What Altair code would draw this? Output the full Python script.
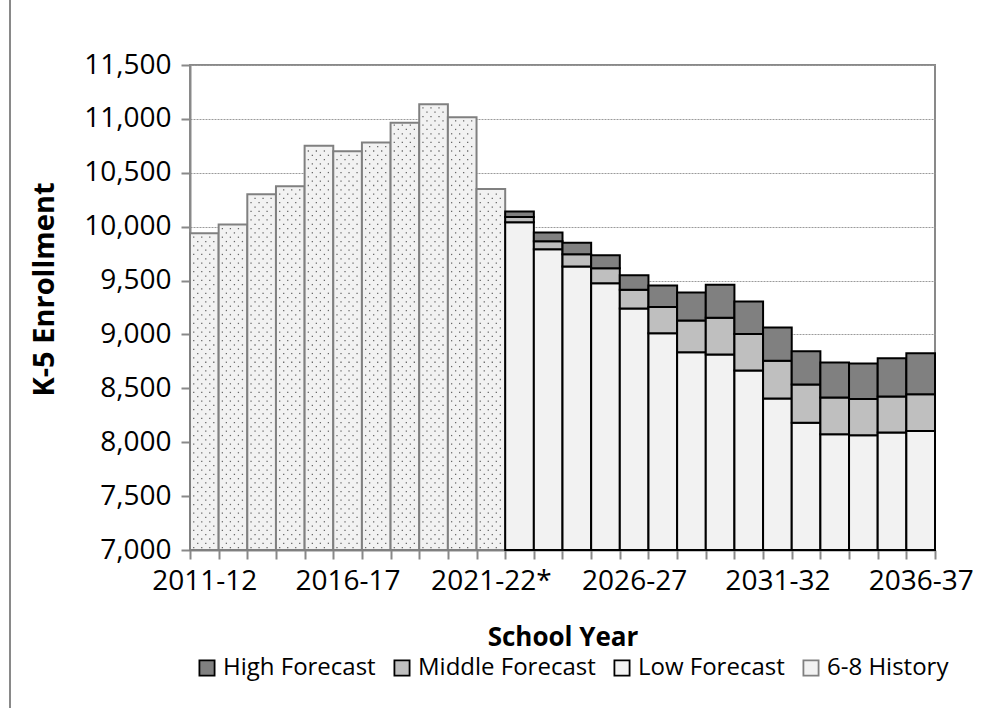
import altair as alt
import pandas as pd

# School years on the x axis; the asterisk marks the last reported year
YEARS = [
    "2011-12", "2012-13", "2013-14", "2014-15", "2015-16", "2016-17",
    "2017-18", "2018-19", "2019-20", "2020-21", "2021-22*", "2022-23",
    "2023-24", "2024-25", "2025-26", "2026-27", "2027-28", "2028-29",
    "2029-30", "2030-31", "2031-32", "2032-33", "2033-34", "2034-35",
    "2035-36", "2036-37",
]

# Reported enrollment, 2011-12 .. 2021-22
HISTORY = [9940, 10020, 10300, 10375, 10750, 10700, 10780, 10965, 11135, 11015, 10350]

# Forecast totals, 2022-23 .. 2036-37
LOW = [10040, 9790, 9630, 9475, 9240, 9010, 8835, 8815, 8665, 8405, 8180, 8075, 8065, 8090, 8105]
MIDDLE = [10090, 9865, 9745, 9615, 9415, 9255, 9130, 9155, 9005, 8755, 8535, 8415, 8400, 8425, 8445]
HIGH = [10140, 9945, 9850, 9735, 9550, 9455, 9390, 9460, 9305, 9065, 8845, 8740, 8730, 8780, 8825]

SERIES = ["High Forecast", "Middle Forecast", "Low Forecast", "6-8 History"]
FILLS = ["#808080", "#bfbfbf", "#f2f2f2", "#f2f2f2"]
STROKES = ["#000000", "#000000", "#000000", "#808080"]

Y_MIN, Y_MAX = 7000, 11500
FONT = "Open Sans"
FRAME_GRAY = "#898989"

# Bar segments: history bars rise from the axis floor, forecasts are stacked low/middle/high
rows = []
n_hist = len(HISTORY)
for year, v in zip(YEARS[:n_hist], HISTORY):
    rows.append({"year": year, "series": "6-8 History", "y0": Y_MIN, "y1": v})
for year, lo, mid, hi in zip(YEARS[n_hist:], LOW, MIDDLE, HIGH):
    rows.append({"year": year, "series": "Low Forecast", "y0": Y_MIN, "y1": lo})
    rows.append({"year": year, "series": "Middle Forecast", "y0": lo, "y1": mid})
    rows.append({"year": year, "series": "High Forecast", "y0": mid, "y1": hi})
bars_df = pd.DataFrame(rows)

# Dotted texture for the history bars (a staggered grid of tiny squares)
dots = []
row_step = 40
for i, top in enumerate(HISTORY):
    k = 0
    yv = Y_MIN + 22
    while yv < top - 15:
        cols = (0.13, 0.41, 0.69) if k % 2 == 0 else (0.27, 0.55, 0.83)
        for c in cols:
            dots.append({"pos": i + c, "y1": yv})
        yv += row_step
        k += 1
dots_df = pd.DataFrame(dots)

shown_labels = YEARS[::5]
label_expr = (
    "indexof([" + ",".join("'" + s + "'" for s in shown_labels) + "], datum.value) >= 0 ? datum.value : ''"
)

y_scale = alt.Scale(domain=[Y_MIN, Y_MAX], nice=False, zero=False)


def y_axis():
    return alt.Axis(
        title="K-5 Enrollment",
        values=list(range(Y_MIN, Y_MAX + 1, 500)),
        labelExpr="format(datum.value, ',')",
        grid=True,
        gridColor="#9a9a9a",
        gridDash=[2, 1],
        gridWidth=1,
        labelPadding=10,
        titlePadding=24,
        titleFontSize=29,
        titleY=224,
    )


bars = alt.Chart(bars_df).mark_bar(strokeWidth=2).encode(
    x=alt.X(
        "year:N",
        sort=YEARS,
        scale=alt.Scale(paddingInner=0, paddingOuter=0),
        axis=alt.Axis(
            title="School Year",
            labelAngle=0,
            labelExpr=label_expr,
            labelOverlap=False,
            tickBand="extent",
            labelPadding=8,
            titlePadding=29,
        ),
    ),
    y=alt.Y("y1:Q", scale=y_scale, axis=y_axis()),
    y2="y0:Q",
    fill=alt.Fill(
        "series:N",
        scale=alt.Scale(domain=SERIES, range=FILLS),
        legend=alt.Legend(title=None),
    ),
    stroke=alt.Stroke(
        "series:N",
        scale=alt.Scale(domain=SERIES, range=STROKES),
        legend=alt.Legend(title=None),
    ),
)

texture = alt.Chart(dots_df).mark_square(size=1.6, color="#666666", opacity=1).encode(
    x=alt.X("pos:Q", scale=alt.Scale(domain=[0, len(YEARS)], nice=False, zero=False), axis=None),
    y=alt.Y("y1:Q", scale=y_scale, axis=y_axis()),
)

# Left edge of the chart frame
frame = alt.Chart(pd.DataFrame({"k": [0]})).mark_rule(color=FRAME_GRAY, strokeWidth=2).encode(
    x=alt.value(-180), y=alt.value(-65), y2=alt.value(643)
)

chart = (
    alt.layer(bars, texture, frame)
    .resolve_scale(x="independent")
    .properties(
        width=745,
        height=485,
        autosize=alt.AutoSizeParams(type="none"),
        padding={"left": 190, "top": 65, "right": 68, "bottom": 158},
        background="white",
    )
    .configure_view(stroke=FRAME_GRAY, strokeWidth=2)
    .configure_axis(
        labelFont=FONT,
        labelFontSize=28,
        labelColor="#000000",
        titleFont=FONT,
        titleFontSize=26,
        titleFontWeight="bold",
        titleColor="#000000",
        domainColor=FRAME_GRAY,
        domainWidth=2,
        tickColor=FRAME_GRAY,
        tickWidth=2,
        tickSize=9,
    )
    .configure_legend(
        orient="none",
        direction="horizontal",
        legendX=5,
        legendY=591,
        labelFont=FONT,
        labelFontSize=24,
        labelColor="#000000",
        labelLimit=0,
        symbolType="square",
        symbolSize=230,
        symbolStrokeWidth=1.8,
        symbolOpacity=1,
        labelOffset=4,
        columnPadding=14,
    )
)

chart.save("out.html", embed_options={"renderer": "svg", "actions": False})
